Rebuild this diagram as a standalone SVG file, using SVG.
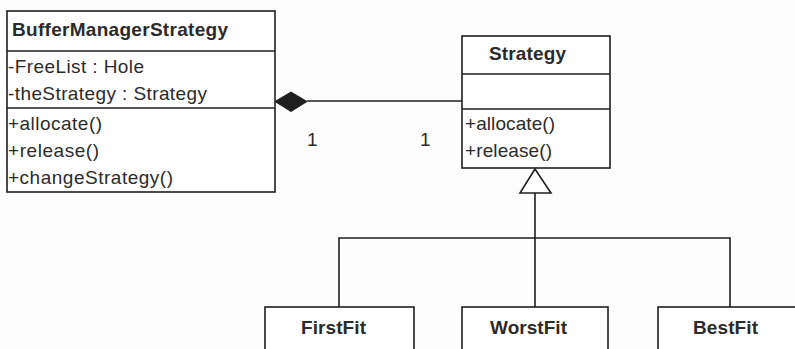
<svg xmlns="http://www.w3.org/2000/svg" width="795" height="349" viewBox="0 0 795 349">
  <style>
    .box { fill: #ffffff; stroke: #1f1f1f; stroke-width: 1.6; }
    .sep { stroke: #1f1f1f; stroke-width: 1.6; fill: none; }
    .edge { stroke: #1f1f1f; stroke-width: 1.6; fill: none; }
    .t { font-family: "Liberation Sans", Arial, Helvetica, sans-serif; font-size: 19px; fill: #2b2b2b; }
    .b { font-weight: bold; }
  </style>
  <rect x="0" y="0" width="795" height="349" fill="#fdfdfd"/>

  <!-- BufferManagerStrategy class -->
  <g id="BufferManagerStrategy">
    <rect class="box" x="7" y="11" width="268" height="181"/>
    <line class="sep" x1="7" y1="51" x2="275" y2="51"/>
    <line class="sep" x1="7" y1="108" x2="275" y2="108"/>
    <text class="t b" x="12" y="36" textLength="216">BufferManagerStrategy</text>
    <text class="t" x="8" y="73" textLength="136">-FreeList : Hole</text>
    <text class="t" x="8" y="100" textLength="199">-theStrategy : Strategy</text>
    <text class="t" x="8" y="130" textLength="94">+allocate()</text>
    <text class="t" x="8" y="157" textLength="91">+release()</text>
    <text class="t" x="8" y="184" textLength="165">+changeStrategy()</text>
  </g>

  <!-- Strategy class -->
  <g id="Strategy">
    <rect class="box" x="462" y="36" width="148" height="132"/>
    <line class="sep" x1="462" y1="74" x2="610" y2="74"/>
    <line class="sep" x1="462" y1="109" x2="610" y2="109"/>
    <text class="t b" x="489" y="60" textLength="77">Strategy</text>
    <text class="t" x="465" y="130" textLength="90">+allocate()</text>
    <text class="t" x="465" y="157" textLength="87">+release()</text>
  </g>

  <!-- concrete strategies -->
  <g id="FirstFit">
    <rect class="box" x="265" y="307" width="149" height="50"/>
    <text class="t b" x="301" y="334" textLength="65">FirstFit</text>
  </g>
  <g id="WorstFit">
    <rect class="box" x="462" y="307" width="146" height="50"/>
    <text class="t b" x="490" y="334" textLength="77">WorstFit</text>
  </g>
  <g id="BestFit">
    <rect class="box" x="658" y="307" width="146" height="50"/>
    <text class="t b" x="693" y="334" textLength="65">BestFit</text>
  </g>

  <!-- connectors -->
  <g id="connectors">
    <!-- composition -->
    <line class="edge" x1="307" y1="101" x2="462" y2="101"/>
    <polygon points="275,101.5 291,92 307,101.5 291,111.5" fill="#1f1f1f" stroke="#1f1f1f" stroke-width="1"/>
    <text class="t" x="307" y="146">1</text>
    <text class="t" x="420" y="146">1</text>
    <!-- generalization -->
    <polygon points="535,169 520,193 551,193" fill="#ffffff" stroke="#1f1f1f" stroke-width="1.6"/>
    <line class="edge" x1="535" y1="193" x2="535" y2="307"/>
    <polyline class="edge" points="339,307 339,238 730,238 730,307"/>
  </g>
</svg>
